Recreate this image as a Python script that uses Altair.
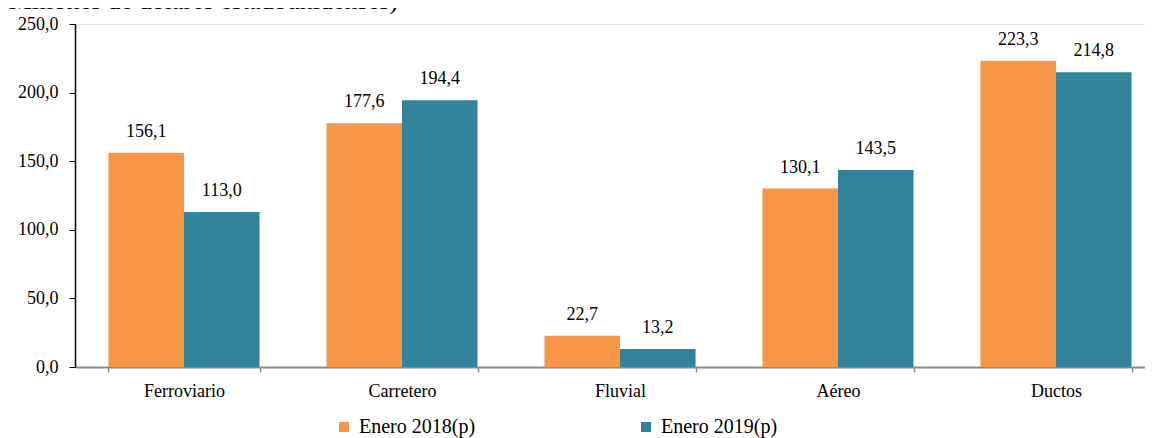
import altair as alt
import pandas as pd

categories = ["Ferroviario", "Carretero", "Fluvial", "Aéreo", "Ductos"]
series = ["Enero 2018(p)", "Enero 2019(p)"]
v2018 = [156.1, 177.6, 22.7, 130.1, 223.3]
v2019 = [113.0, 194.4, 13.2, 143.5, 214.8]
colors = ["#F79646", "#31849B"]
title_text = "(Millones de dólares estadounidenses)"

rows = []
for c, a, b in zip(categories, v2018, v2019):
    rows.append({"cat": c, "serie": series[0], "val": a})
    rows.append({"cat": c, "serie": series[1], "val": b})
df = pd.DataFrame(rows)

FONT = "Liberation Serif"

x = alt.X("cat:N", sort=categories, title=None,
          scale=alt.Scale(paddingInner=0.307, paddingOuter=0.1535),
          axis=alt.Axis(labelAngle=0, labelFont=FONT, labelFontSize=18, labelColor="#000",
                        labelPadding=10, domainColor="#8c8c8c", domainWidth=2,
                        tickColor="#8c8c8c", tickWidth=1.5, tickSize=5, tickBand="extent"))
y = alt.Y("val:Q", title=None,
          scale=alt.Scale(domain=[0, 250], nice=False),
          axis=alt.Axis(values=[0, 50, 100, 150, 200, 250], grid=False,
                        labelExpr="replace(format(datum.value, '.1f'), '.', ',')",
                        labelFont=FONT, labelFontSize=18, labelColor="#000", labelPadding=11,
                        domainColor="#000", domainWidth=1.5, tickColor="#000", tickSize=6))
color = alt.Color("serie:N", sort=series, title=None,
                  scale=alt.Scale(domain=series, range=colors),
                  legend=alt.Legend(orient="none", legendX=259, legendY=393,
                                    direction="horizontal", symbolType="square",
                                    symbolSize=100, symbolStrokeWidth=0, labelFont=FONT,
                                    labelFontSize=20, labelColor="#000", columnPadding=160,
                                    labelOffset=5, labelLimit=300, padding=0))

base = alt.Chart(df).encode(x=x, xOffset=alt.XOffset("serie:N", sort=series), y=y)
bars = base.mark_bar().encode(color=color)
labels = base.mark_text(baseline="alphabetic", dy=-16, font=FONT, fontSize=18, color="#000").encode(
    text=alt.Text("label:N")
).transform_calculate(label="replace(format(datum.val, '.1f'), '.', ',')")

title = alt.Chart(pd.DataFrame({"t": [title_text]})).mark_text(
    align="left", baseline="alphabetic", font=FONT, fontSize=26, color="#000"
).encode(x=alt.value(-75), y=alt.value(-15), text="t:N")

chart = alt.layer(bars, labels, title).properties(
    width=1090, height=343,
    autosize=alt.AutoSizeParams(type="none"),
    padding={"left": 67, "top": 16, "right": -20, "bottom": 72},
).configure_view(stroke=None).configure(background="white", font=FONT)

chart.save("out.html", embed_options={"renderer": "svg", "actions": False})
